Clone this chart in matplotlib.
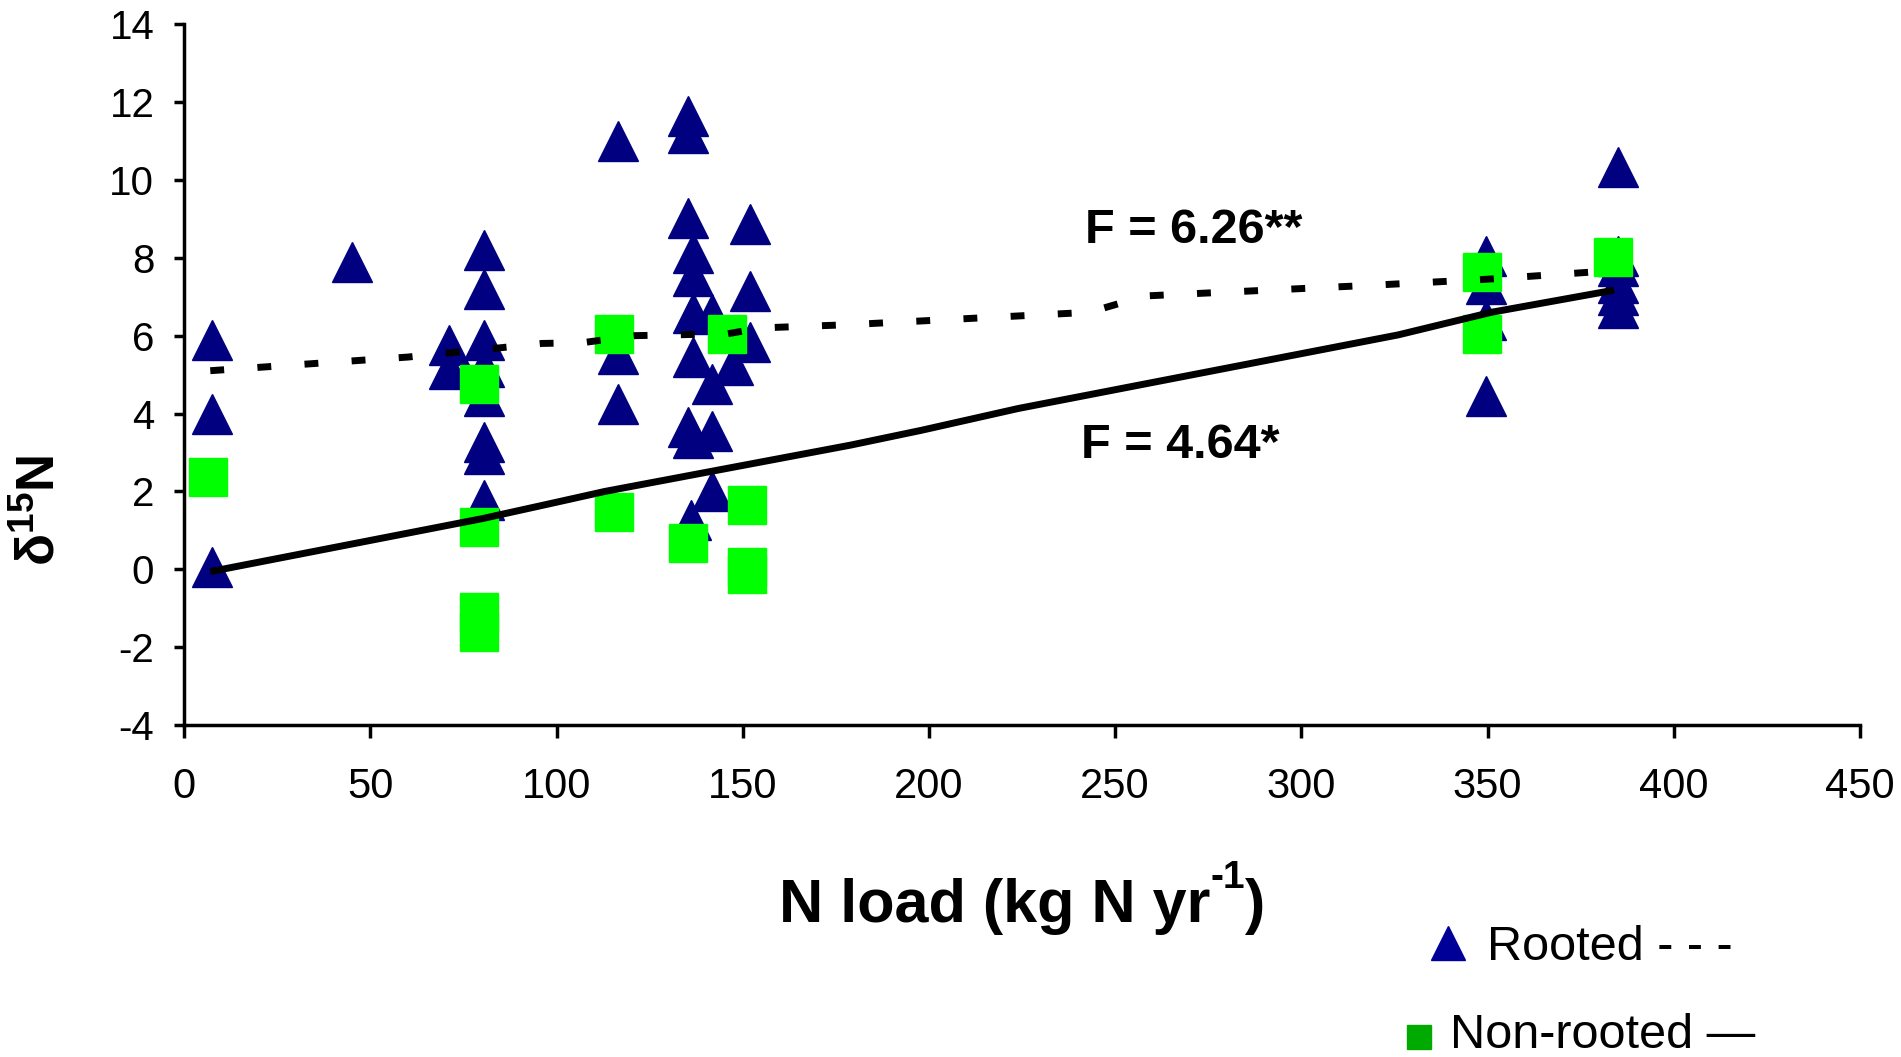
import matplotlib
matplotlib.use("Agg")
import matplotlib.pyplot as plt
from matplotlib.lines import Line2D

plt.rcParams['font.family'] = ['Liberation Sans', 'DejaVu Sans']
plt.rcParams['mathtext.fontset'] = 'custom'
plt.rcParams['mathtext.rm'] = 'Liberation Sans'
plt.rcParams['mathtext.bf'] = 'Liberation Sans:bold'
plt.rcParams['mathtext.it'] = 'Liberation Sans:italic'
plt.rcParams['axes.unicode_minus'] = False

# rooted plants (triangles)
rooted_x = [7.5, 7.5, 7.5, 45, 71, 71,
            80.5, 80.5, 80.5, 80.5, 80.5, 80.5, 80.5, 80.5,
            116.6, 116.6, 116.6,
            135.4, 135.4, 135.4, 136.5, 136.5, 136.5, 136.5, 135.4, 136.5, 136,
            141.6, 141.6, 141.6, 141.6, 147.5, 151.9, 151.9, 151.9,
            349.5, 349.5, 349.5, 349.5,
            385, 385, 385, 385, 385, 385]
rooted_y = [5.9, 4.0, 0.05, 7.9, 5.75, 5.15,
            8.2, 7.2, 5.9, 5.2, 4.45, 3.27, 2.95, 1.77,
            11.0, 5.53, 4.24,
            11.63, 11.2, 9.02, 8.13, 7.52, 6.58, 5.44, 3.65, 3.36, 1.26,
            6.55, 4.75, 3.55, 2.0, 5.25, 8.88, 7.15, 5.83,
            8.04, 7.32, 6.4, 4.46,
            10.33, 8.04, 7.8, 7.35, 7.05, 6.72]

# non-rooted plants (squares)
nonrooted_x = [6.5, 79.2, 79.2, 79.2, 79.2, 115.5, 115.5, 135.4, 145.7,
               151, 151, 151, 348.5, 348.5, 383.8]
nonrooted_y = [2.36, 4.75, 1.08, -1.11, -1.62, 6.04, 1.46, 0.67, 6.04,
               1.65, 0.07, -0.13, 7.63, 6.04, 8.03]

# fitted lines
fit_rooted_x = [7, 60, 84, 96, 107, 121, 146, 155, 178, 243, 258, 320, 350, 385]
fit_rooted_y = [5.1, 5.45, 5.68, 5.8, 5.82, 6.0, 6.05, 6.2, 6.28, 6.6, 7.02, 7.3, 7.45, 7.68]
fit_nonrooted_x = [7, 80, 98, 113, 179, 198, 224, 326, 351, 384]
fit_nonrooted_y = [-0.06, 1.3, 1.68, 2.0, 3.19, 3.57, 4.13, 6.02, 6.6, 7.17]

fig = plt.figure(figsize=(19.01, 10.57), dpi=100)
ax = fig.add_axes([0.0969, 0.3141, 0.8815, 0.6630])

ax.plot(rooted_x, rooted_y, ls='none', marker='^', ms=29, color='#000080',
        mec='#000080', mew=1, clip_on=False, zorder=3)
ax.plot(nonrooted_x, nonrooted_y, ls='none', marker='s', ms=27, color='#00FF00',
        mec='#00FF00', mew=1, clip_on=False, zorder=4)
ax.plot(fit_rooted_x, fit_rooted_y, color='black', lw=5, dashes=(2.0, 4.8),
        dash_capstyle='butt', zorder=5)
ax.plot(fit_nonrooted_x, fit_nonrooted_y, color='black', lw=5,
        solid_capstyle='butt', zorder=5)

ax.set_xlim(0, 450)
ax.set_ylim(-4, 14)
ax.set_xticks(range(0, 451, 50))
ax.set_yticks(range(-4, 15, 2))
for s in ['top', 'right']:
    ax.spines[s].set_visible(False)
for s in ['left', 'bottom']:
    ax.spines[s].set_linewidth(2.5)
ax.tick_params(axis='both', width=2.5, direction='out')
ax.tick_params(axis='x', length=9.5, pad=21, labelsize=30)
ax.tick_params(axis='y', length=7.5, pad=14, labelsize=29)

ax.text(241.9, 8.37, "F = 6.26**", fontsize=35, fontweight='bold', va='baseline')
ax.text(240.8, 2.85, "F = 4.64*", fontsize=35, fontweight='bold', va='baseline')

# x label with a plain hyphen in the superscript
xl_center, xl_base = 0.5376, 0.128
t1 = fig.text(0, xl_base, "N load (kg N yr", fontsize=44, fontweight='bold', va='baseline')
t2 = fig.text(0, xl_base + 0.032, "-1", fontsize=28, fontweight='bold', va='baseline')
t3 = fig.text(0, xl_base, ")", fontsize=44, fontweight='bold', va='baseline')
rend = fig.canvas.get_renderer()
fw = fig.bbox.width
w1, w2, w3 = [t.get_window_extent(rend).width / fw for t in (t1, t2, t3)]
x0 = xl_center - (w1 + w2 + w3) / 2
t1.set_x(x0)
t2.set_x(x0 + w1)
t3.set_x(x0 + w1 + w2)

fig.text(0.0284, 0.517, r"$\mathbf{δ^{15}N}$", fontsize=38, rotation=90,
         rotation_mode='anchor', ha='center', va='baseline')

# legend, drawn by hand
fig.add_artist(Line2D([0.7617], [0.1083], marker='^', ms=24.5, color='#000099',
                      ls='none', transform=fig.transFigure))
fig.text(0.7822, 0.0918, "Rooted - - -", fontsize=35, va='baseline')
fig.add_artist(Line2D([0.7464], [0.0185], marker='s', ms=17.5, color='#00AA00',
                      ls='none', transform=fig.transFigure))
fig.text(0.7625, 0.0081, "Non-rooted \u2014", fontsize=35, va='baseline')

fig.savefig("out.png", dpi=100)
